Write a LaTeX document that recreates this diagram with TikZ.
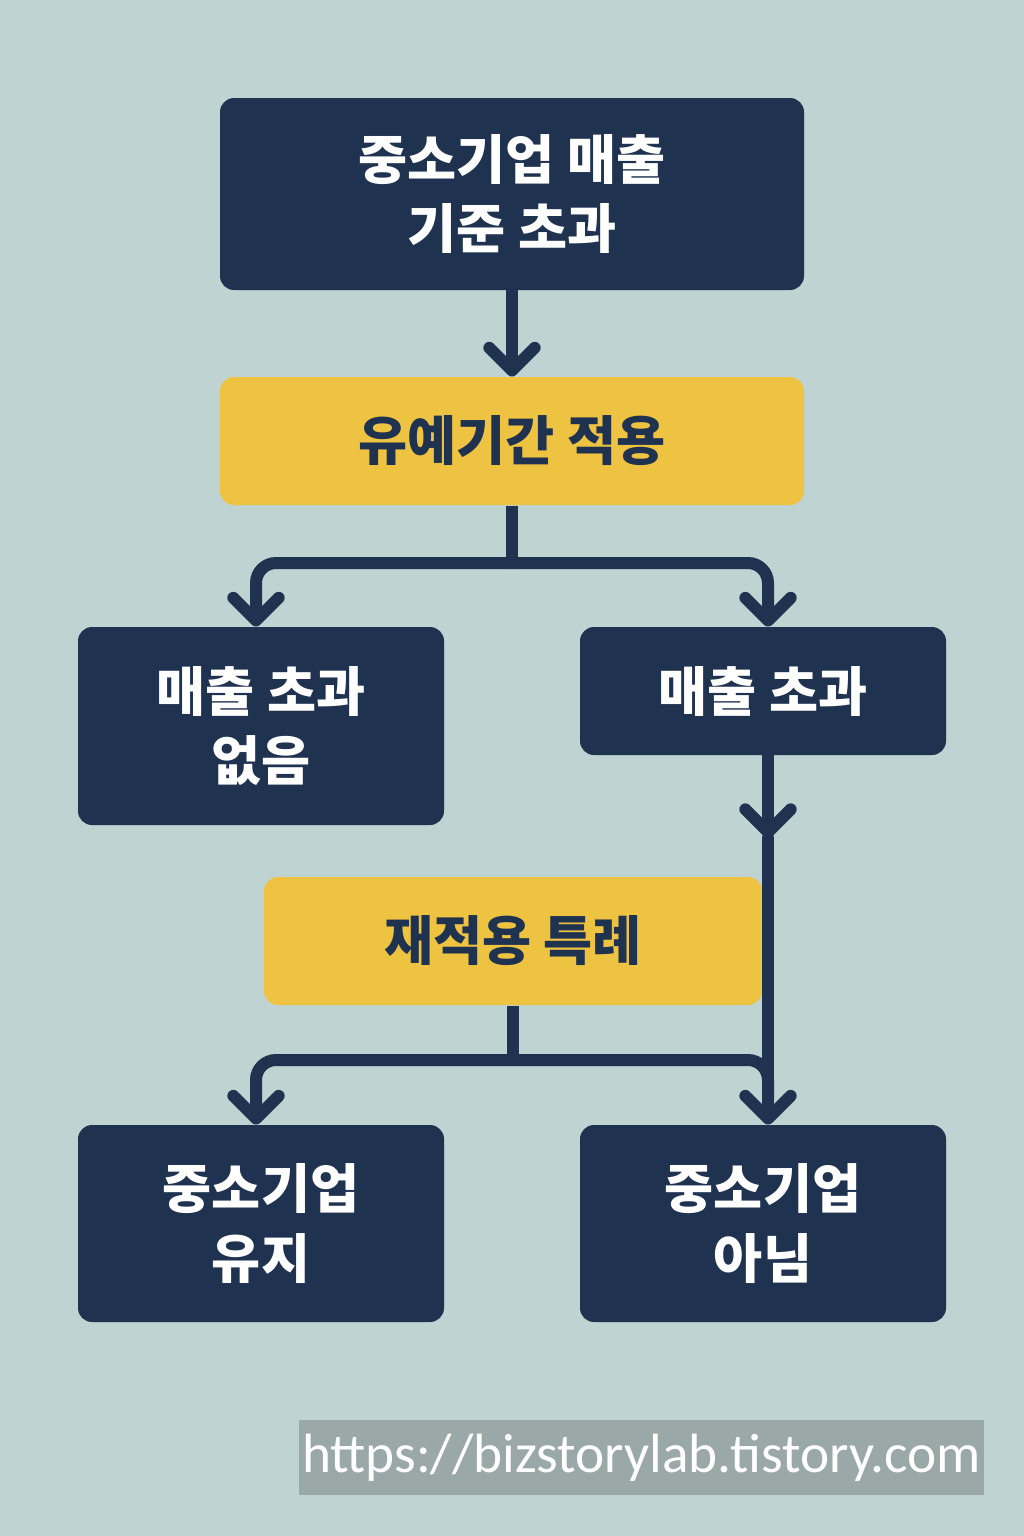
\documentclass[tikz,border=0pt]{standalone}
\usepackage{fontspec}
\newfontfamily\krfont{Noto Sans CJK KR}
\newfontfamily\urlfont{Carlito}
\usetikzlibrary{arrows.meta}

\definecolor{bgteal}{RGB}{191,211,210}
\definecolor{navy}{RGB}{31,50,80}
\definecolor{mustard}{RGB}{238,195,66}
\definecolor{wmgray}{RGB}{154,169,167}

\tikzset{
  every picture/.style={line width=0.75pt},
  darkbox/.style={fill=navy, rounded corners=10.5pt, text=white, align=center, inner sep=0pt,
    font=\krfont\bfseries\fontsize{40}{52}\selectfont},
  yellowbox/.style={fill=mustard, rounded corners=10.5pt, text=navy, align=center, inner sep=0pt,
    font=\krfont\bfseries\fontsize{40}{52}\selectfont},
  link/.style={draw=navy, line width=9pt, line cap=round},
  flow/.style={link, -{Straight Barb[length=17pt,width=34pt,round]}},
}

\begin{document}
\begin{tikzpicture}[x=0.75pt,y=0.75pt,yscale=-1,xscale=1]
        % background, fixes the page size
        \fill [bgteal] (0,0) rectangle (1024,1536);
        \useasboundingbox (0,0) rectangle (1024,1536);

        % columns and junctions
        \coordinate (lcol) at (256,0);
        \coordinate (rcol) at (768,0);
        \coordinate (j1) at (512,563);
        \coordinate (j2) at (513,1060);
        \coordinate (j2end) at (768,1100);
        \coordinate (mid) at (768,838);

        % Boxes
        \node [darkbox, minimum width=438pt, minimum height=144pt] (top) at (512,194) {중소기업 매출\\기준 초과};
        \node [yellowbox, minimum width=438pt, minimum height=96pt] (grace) at (512,441) {유예기간 적용};
        \node [darkbox, minimum width=274.5pt, minimum height=148.5pt] (noexc) at (261,726) {매출 초과\\없음};
        \node [darkbox, minimum width=274.5pt, minimum height=96pt] (exc) at (763,691) {매출 초과};
        \node [yellowbox, minimum width=373.5pt, minimum height=96pt] (reapply) at (513,941) {재적용 특례};
        \node [darkbox, minimum width=274.5pt, minimum height=147.75pt] (keep) at (261,1223.5) {중소기업\\유지};
        \node [darkbox, minimum width=274.5pt, minimum height=147.75pt] (lose) at (763,1223.5) {중소기업\\아님};

        % Watermark
        \node [fill=wmgray, minimum width=513.75pt, minimum height=56.25pt, inner sep=0pt, text=white,
          font=\urlfont\fontsize{41.5}{41.5}\selectfont] (url) at (641.5,1457.5) {https://bizstorylab.tistory.com};

        % Connectors
        \draw [flow] (top.south) -- (grace.north);
        \draw [link, line cap=butt] (grace.south) -- (j1);
        \draw [flow, rounded corners=15pt] (j1) -| (noexc.north -| lcol);
        \draw [flow, rounded corners=15pt] (j1) -| (exc.north -| rcol);
        \draw [flow] (exc.south -| rcol) -- (mid);
        \draw [flow] (mid) -- (lose.north -| rcol);
        \draw [link, line cap=butt] (reapply.south) -- (j2);
        \draw [flow, rounded corners=15pt] (j2) -| (keep.north -| lcol);
        \draw [link, line cap=butt, rounded corners=15pt] (j2) -| (j2end);

\end{tikzpicture}
\end{document}
